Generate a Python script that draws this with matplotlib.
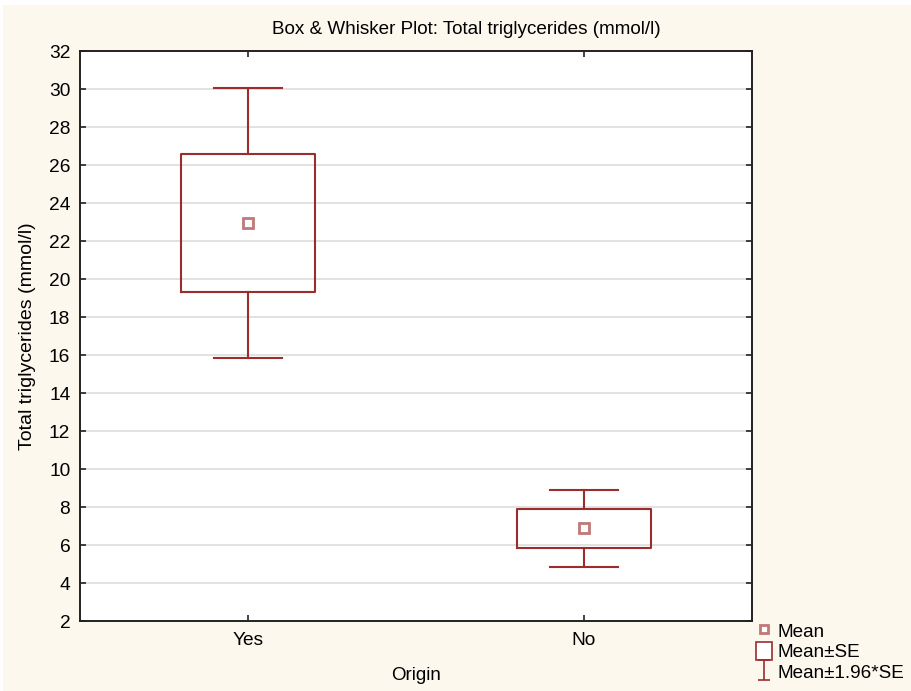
import matplotlib.pyplot as plt
from matplotlib.lines import Line2D
from matplotlib.patches import Rectangle
from matplotlib.path import Path

# group summaries: mean, standard error
groups = ['Yes', 'No']
means = [22.95, 6.88]
se = [3.63, 1.03]
factor = 1.96

dark_red = '#9b2d2d'
mean_red = '#c07878'
cream = '#fdf8ee'

plt.rcParams['font.family'] = ['Liberation Sans', 'DejaVu Sans']

stats = []
for name, m, s in zip(groups, means, se):
    stats.append({
        'label': name,
        'mean': m,
        'med': m,
        'q1': m - s,
        'q3': m + s,
        'whislo': m - factor * s,
        'whishi': m + factor * s,
        'fliers': [],
    })

fig = plt.figure(figsize=(9.11, 6.91), dpi=100, facecolor=cream)
ax = fig.add_axes([80 / 911, 1 - 621 / 691, 672 / 911, 570 / 691])
ax.set_facecolor('white')

ax.bxp(stats, positions=[1, 2], widths=0.4, capwidths=0.2,
       showmeans=True, patch_artist=False,
       boxprops=dict(color=dark_red, linewidth=1.5),
       whiskerprops=dict(color=dark_red, linewidth=1.5),
       capprops=dict(color=dark_red, linewidth=1.5),
       medianprops=dict(linewidth=0),
       meanprops=dict(marker='s', markersize=7, markerfacecolor='white',
                      markeredgecolor=mean_red, markeredgewidth=2))

ax.set_xlim(0.5, 2.5)
ax.set_ylim(2, 32)
ax.set_yticks(range(2, 33, 2))
ax.set_xticks([1, 2])
ax.set_xticklabels(groups)
ax.yaxis.grid(True, color='#dddddd', linewidth=1.2)
ax.set_axisbelow(True)
ax.tick_params(direction='in', length=4, width=1.2, color='#222222',
               top=True, right=True, labelsize=13.8)
ax.tick_params(axis='x', pad=8)
ax.tick_params(axis='y', pad=7)
for sp in ax.spines.values():
    sp.set_color('#222222')
    sp.set_linewidth(1.4)

# title sits right of the plot-area centre
fig.text(466 / 911, 1 - 30 / 691, 'Box & Whisker Plot: Total triglycerides (mmol/l)',
         fontsize=13.6, ha='center', va='center')
ax.set_ylabel('Total triglycerides (mmol/l)', fontsize=14, labelpad=9)
ax.set_xlabel('Origin', fontsize=13.5, labelpad=13)

# I-beam glyph for the ±1.96*SE legend entry
ibeam = Path([(-0.6, 1), (0.6, 1), (0, 1), (0, -1), (-0.6, -1), (0.6, -1)],
             [Path.MOVETO, Path.LINETO, Path.MOVETO, Path.LINETO, Path.MOVETO, Path.LINETO])
handles = [
    Line2D([], [], linestyle='none', marker='s', markersize=6, markerfacecolor='white',
           markeredgecolor=mean_red, markeredgewidth=2),
    Rectangle((0, 0), 1, 1, facecolor='white', edgecolor=dark_red, linewidth=1.2),
    Line2D([], [], linestyle='none', marker=ibeam, markersize=15, markerfacecolor='none',
           markeredgecolor=dark_red, markeredgewidth=1.2),
]
fig.legend(handles, ['Mean', 'Mean±SE', 'Mean±1.96*SE'], loc='upper left',
           bbox_to_anchor=(743 / 911, 1 - 608 / 691), frameon=False, fontsize=13.6,
           handlelength=0.85, handleheight=1.1, handletextpad=0.3, labelspacing=0.05,
           borderpad=0.2)

# thin white strip along the top and left edges
fig.patches.append(Rectangle((0, 1 - 5 / 691), 1, 5 / 691, transform=fig.transFigure,
                             facecolor='white', edgecolor='none', zorder=-1))
fig.patches.append(Rectangle((0, 0), 3 / 911, 1, transform=fig.transFigure,
                             facecolor='white', edgecolor='none', zorder=-1))

fig.savefig('out.png', dpi=100, facecolor=cream)
